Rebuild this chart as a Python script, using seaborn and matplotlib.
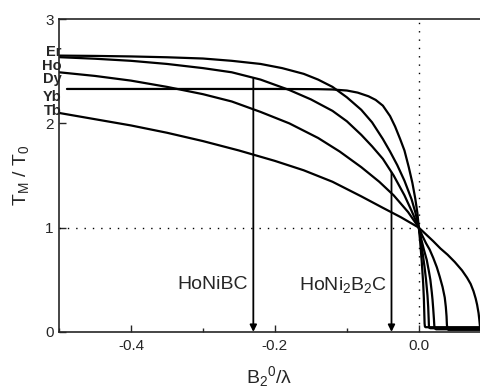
import pandas as pd
import seaborn as sns
import matplotlib.pyplot as plt
from matplotlib.ticker import MultipleLocator

# T_M / T_0 curves, one pair of lists per ion
er_x = [-0.5, -0.45, -0.4, -0.35, -0.3, -0.26, -0.22, -0.19, -0.16, -0.14, -0.12, -0.10,
        -0.08, -0.065, -0.05, -0.04, -0.03, -0.02, -0.01, -0.005, 0.0,
        0.002, 0.004, 0.006, 0.008, 0.010, 0.012, 0.013, 0.0137, 0.014, 0.0145, 0.016, 0.085]
er_y = [2.65, 2.647, 2.642, 2.634, 2.622, 2.60, 2.57, 2.53, 2.475, 2.42, 2.35, 2.25,
        2.13, 2.01, 1.85, 1.73, 1.60, 1.45, 1.27, 1.15, 1.0,
        0.92, 0.82, 0.72, 0.62, 0.50, 0.35, 0.24, 0.12, 0.06, 0.04, 0.035, 0.035]

ho_x = [-0.5, -0.45, -0.4, -0.35, -0.3, -0.26, -0.22, -0.18, -0.15, -0.12, -0.1, -0.08,
        -0.065, -0.05, -0.035, -0.02, -0.01, 0.0,
        0.003, 0.007, 0.011, 0.014, 0.016, 0.018, 0.019, 0.020, 0.021, 0.0215, 0.022, 0.024, 0.085]
ho_y = [2.635, 2.62, 2.60, 2.57, 2.53, 2.49, 2.42, 2.32, 2.23, 2.12, 2.02, 1.89,
        1.78, 1.66, 1.50, 1.31, 1.16, 1.0,
        0.90, 0.79, 0.69, 0.58, 0.50, 0.38, 0.31, 0.22, 0.12, 0.06, 0.035, 0.025, 0.025]

dy_x = [-0.5, -0.45, -0.4, -0.35, -0.3, -0.26, -0.22, -0.18, -0.14, -0.11, -0.08, -0.055,
        -0.035, -0.015, 0.0,
        0.005, 0.01, 0.015, 0.02, 0.025, 0.029, 0.033, 0.036, 0.0375, 0.0385, 0.039, 0.0395,
        0.041, 0.085]
dy_y = [2.49, 2.455, 2.41, 2.35, 2.28, 2.21, 2.11, 2.00, 1.86, 1.73, 1.58, 1.44,
        1.31, 1.15, 1.0,
        0.92, 0.85, 0.79, 0.71, 0.62, 0.53, 0.43, 0.33, 0.24, 0.15, 0.07, 0.04,
        0.02, 0.02]

yb_x = [-0.489, -0.3, -0.2, -0.14, -0.12, -0.10, -0.085, -0.07, -0.06, -0.05, -0.04,
        -0.033, -0.026, -0.02, -0.014, -0.009, -0.005, -0.002, 0.0,
        0.002, 0.004, 0.006, 0.007, 0.0075, 0.008, 0.0085, 0.0095, 0.085]
yb_y = [2.33, 2.33, 2.33, 2.328, 2.325, 2.315, 2.295, 2.26, 2.225, 2.17, 2.07,
        1.97, 1.85, 1.74, 1.58, 1.43, 1.28, 1.14, 1.0,
        0.85, 0.68, 0.47, 0.32, 0.20, 0.08, 0.05, 0.045, 0.045]

tb_x = [-0.5, -0.45, -0.4, -0.35, -0.3, -0.25, -0.2, -0.16, -0.12, -0.08, -0.05, -0.025, 0.0,
        0.01, 0.02, 0.03, 0.04, 0.05, 0.06, 0.067, 0.072, 0.076, 0.079, 0.081, 0.083,
        0.084, 0.085]
tb_y = [2.10, 2.04, 1.98, 1.91, 1.83, 1.74, 1.64, 1.55, 1.44, 1.30, 1.19, 1.10, 1.0,
        0.935, 0.87, 0.80, 0.74, 0.67, 0.59, 0.52, 0.46, 0.39, 0.32, 0.26, 0.18,
        0.12, 0.05]

ions = ["Er", "Ho", "Dy", "Yb", "Tb"]
label_y = [2.68, 2.555, 2.43, 2.25, 2.12]

# arrows for the two compounds: x position, top of arrow
arrow_x = [-0.23, -0.038]
arrow_top = [2.43, 1.53]
compounds = ["HoNiBC", "HoNi$_2$B$_2$C"]
compound_x = [-0.237, -0.044]

curves = {"Er": (er_x, er_y), "Ho": (ho_x, ho_y), "Dy": (dy_x, dy_y),
          "Yb": (yb_x, yb_y), "Tb": (tb_x, tb_y)}
rows = []
for ion, (xs, ys) in curves.items():
    for a, b in zip(xs, ys):
        rows.append({"ion": ion, "B": a, "T": b})
df = pd.DataFrame(rows)

sns.set_style("ticks")
plt.rcParams["font.family"] = ["Liberation Sans", "DejaVu Sans"]
plt.rcParams["mathtext.fontset"] = "custom"
plt.rcParams["mathtext.rm"] = "Liberation Sans"
plt.rcParams["mathtext.it"] = "Liberation Sans"

fig = plt.figure(figsize=(4.8, 3.9), dpi=100)
ax = fig.add_axes([0.123, 0.149, 0.877, 0.802])

for ion in ions:
    sub = df[df["ion"] == ion]
    sns.lineplot(data=sub, x="B", y="T", sort=False, estimator=None,
                 color="black", lw=1.6, ax=ax)

ax.axhline(1, color="black", lw=1.0, ls=(0, (1, 5)))
ax.axvline(0, color="black", lw=1.0, ls=(0, (1, 5)))

for xa, top in zip(arrow_x, arrow_top):
    ax.annotate("", xy=(xa, 0.0), xytext=(xa, top),
                arrowprops=dict(arrowstyle="-|>", color="black", lw=1.3,
                                mutation_scale=10, shrinkA=0, shrinkB=0))

for name, xc in zip(compounds, compound_x):
    ax.text(xc, 0.45, name, ha="right", va="center", fontsize=14)

for ion, yl in zip(ions, label_y):
    ax.text(-0.496, yl, ion, ha="right", va="center", fontsize=10.5,
            fontweight="bold", clip_on=False)

ax.set_xlim(-0.5, 0.085)
ax.set_ylim(0, 3)
ax.set_xticks([-0.4, -0.2, 0.0])
ax.set_xticklabels(["-0.4", "-0.2", "0.0"])
ax.xaxis.set_minor_locator(MultipleLocator(0.1))
ax.set_yticks([0, 1, 2, 3])
ax.tick_params(which="major", direction="in", length=5, width=1, labelsize=11, pad=5)
ax.tick_params(which="minor", direction="in", length=3, width=1)
ax.tick_params(axis="y", pad=4)
ax.spines["right"].set_visible(False)
for s in ["left", "bottom", "top"]:
    ax.spines[s].set_linewidth(1.2)

ax.set_xlabel("B$_2$$^0$/\u03bb", fontsize=14, labelpad=8)
ax.set_ylabel("T$_M$ / T$_0$", fontsize=14, labelpad=10)

fig.savefig("out.png", dpi=100)
